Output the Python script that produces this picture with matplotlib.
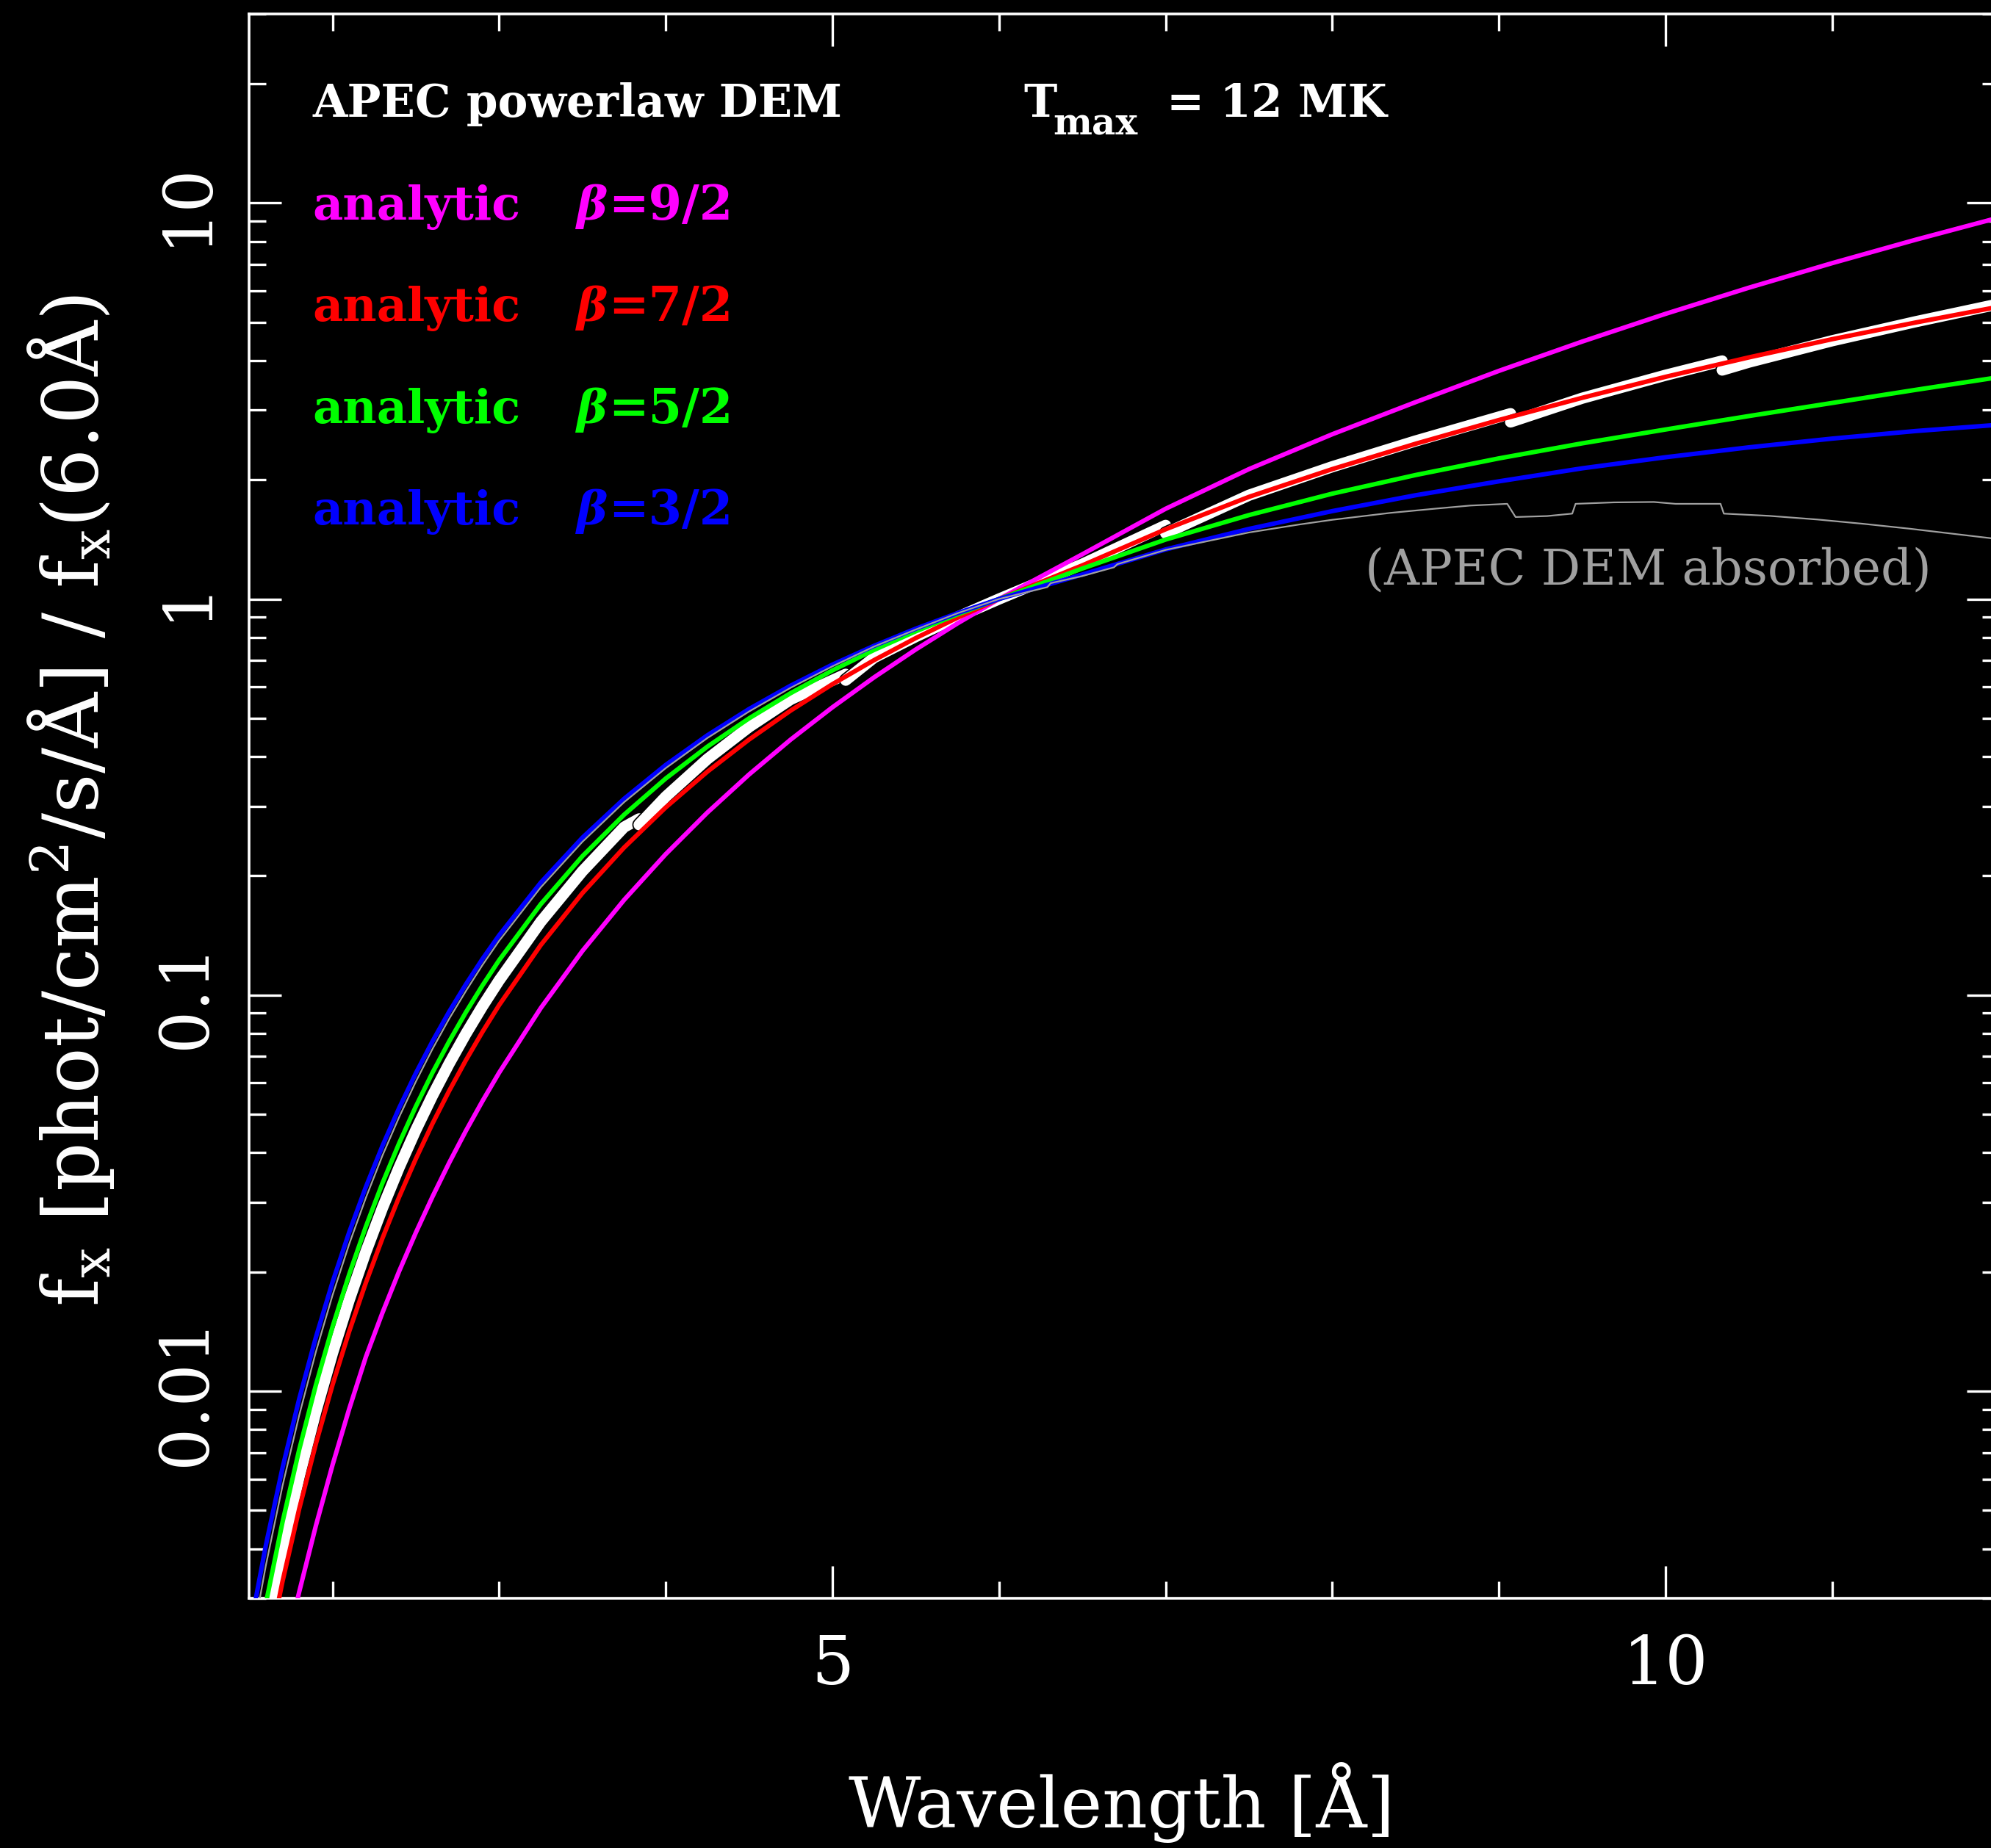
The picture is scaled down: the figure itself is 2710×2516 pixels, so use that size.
import matplotlib
matplotlib.use("Agg")
import matplotlib.pyplot as plt
import matplotlib.patheffects as pe
from matplotlib.ticker import FixedLocator, FixedFormatter, MultipleLocator, LogLocator, NullFormatter

# wavelength grid [A] for the analytic powerlaw-DEM curves
wavelength = [1.5, 1.6, 1.7, 1.8, 1.9, 2.0, 2.1, 2.2, 2.3, 2.4, 2.5, 2.6, 2.7, 2.8, 2.9, 3.0,
              3.25, 3.5, 3.75, 4.0, 4.25, 4.5, 4.75, 5.0, 5.25, 5.5, 5.75, 6.0, 6.5, 7.0, 7.5,
              8.0, 8.5, 9.0, 9.5, 10.0, 10.5, 11.0, 11.5, 12.0]

# f_x / f_x(6 A) for each beta
fx_beta92 = [0.000785, 0.001315, 0.002065, 0.003112, 0.004571, 0.006510, 0.009016, 0.01220,
             0.01579, 0.02009, 0.02513, 0.03098, 0.03772, 0.04539, 0.05402, 0.06371, 0.09277,
             0.1293, 0.1739, 0.2270, 0.2891, 0.3606, 0.4418, 0.5328, 0.6341, 0.7456, 0.8675,
             1.0, 1.297, 1.690, 2.128, 2.606, 3.141, 3.767, 4.467, 5.248, 6.109, 7.047, 8.072, 9.183]
fx_beta72 = [0.001212, 0.002065, 0.003310, 0.005044, 0.007363, 0.01037, 0.01415, 0.01878,
             0.02435, 0.03094, 0.03860, 0.04738, 0.05731, 0.06843, 0.08077, 0.09436, 0.1338,
             0.1810, 0.2358, 0.2978, 0.3666, 0.4418, 0.5230, 0.6095, 0.7009, 0.7967, 0.8966,
             1.0, 1.216, 1.500, 1.811, 2.128, 2.466, 2.831, 3.221, 3.639, 4.074, 4.529, 4.989, 5.470]
fx_beta52 = [0.001701, 0.002910, 0.004673, 0.007116, 0.01036, 0.01453, 0.01972, 0.02603,
             0.03353, 0.04228, 0.05234, 0.06371, 0.07639, 0.09045, 0.1058, 0.1225, 0.1697,
             0.2243, 0.2854, 0.3523, 0.4240, 0.4997, 0.5787, 0.6603, 0.7437, 0.8286, 0.9140,
             1.0, 1.194, 1.413, 1.629, 1.845, 2.056, 2.265, 2.472, 2.679, 2.897, 3.126, 3.373, 3.631]
fx_beta32 = [0.002443, 0.004083, 0.006405, 0.009559, 0.01367, 0.01884, 0.02519, 0.03277,
             0.04165, 0.05188, 0.06350, 0.07643, 0.09078, 0.1064, 0.1234, 0.1416, 0.1924,
             0.2498, 0.3131, 0.3812, 0.4529, 0.5276, 0.6045, 0.6828, 0.7618, 0.8415, 0.9209,
             1.0, 1.153, 1.334, 1.503, 1.667, 1.828, 1.982, 2.138, 2.280, 2.415, 2.541, 2.655, 2.754]

# APEC powerlaw DEM, one piece per temperature grid segment
apec_wl = [
    [1.5, 1.6, 1.7, 1.8, 1.9, 2.0, 2.1, 2.2, 2.3, 2.4, 2.5, 2.6, 2.7, 2.8, 2.9, 3.0, 3.25,
     3.5, 3.75, 3.84],
    [3.84, 4.0, 4.25, 4.5, 4.75, 5.08],
    [5.08, 5.25, 5.5, 5.75, 6.0, 6.5, 7.0],
    [7.0, 7.5, 8.0, 8.5, 9.07],
    [9.07, 9.5, 10.0, 10.34],
    [10.34, 10.5, 11.0, 11.5, 12.0],
]
apec_fx = [
    [0.001460, 0.002493, 0.004001, 0.006095, 0.008887, 0.01248, 0.01698, 0.02247, 0.02904,
     0.03674, 0.04564, 0.05576, 0.06713, 0.07977, 0.09371, 0.1089, 0.1532, 0.2055, 0.2655,
     0.2786],
    [0.2692, 0.3170, 0.3945, 0.4753, 0.5580, 0.6457],
    [0.6237, 0.7112, 0.8035, 0.9000, 1.0, 1.2246, 1.5346],
    [1.4655, 1.8281, 2.1577, 2.5061, 2.9376],
    [2.7990, 3.2137, 3.6728, 3.9902],
    [3.7844, 3.9628, 4.4875, 5.0119, 5.5590],
]

# APEC DEM with absorption
absorbed_wl = [1.5, 1.6, 1.7, 1.8, 1.9, 2.0, 2.1, 2.2, 2.3, 2.4, 2.5, 2.6, 2.7, 2.8, 2.9, 3.0,
               3.25, 3.5, 3.75, 4.0, 4.25, 4.5, 4.75, 5.0, 5.25, 5.5, 5.75, 6.0, 6.29, 6.31,
               6.5, 6.69, 6.71, 7.0, 7.5, 7.8, 8.0, 8.35, 8.63, 8.83, 9.05, 9.10, 9.29, 9.44,
               9.46, 9.69, 9.93, 10.06, 10.33, 10.35, 10.62, 10.91, 11.19, 11.47, 11.95, 12.0]
absorbed_fx = [0.002138, 0.003631, 0.005768, 0.008690, 0.01256, 0.01746, 0.02351, 0.03076,
               0.03936, 0.04920, 0.06045, 0.07311, 0.08712, 0.1023, 0.1191, 0.1371, 0.1871,
               0.2438, 0.3069, 0.3741, 0.4457, 0.5200, 0.5970, 0.6761, 0.7586, 0.8375, 0.9204,
               1.0, 1.0715, 1.0965, 1.1429, 1.2023, 1.2246, 1.3305, 1.4723, 1.5417, 1.5849,
               1.6501, 1.6927, 1.7219, 1.7390, 1.6106, 1.6199, 1.6428, 1.7390, 1.7539, 1.7579,
               1.7390, 1.7390, 1.6428, 1.6218, 1.5878, 1.5478, 1.5042, 1.4244, 1.4158]

beta_labels = ["9/2", "7/2", "5/2", "3/2"]
beta_colors = ["#ff00ff", "#ff0000", "#00ff00", "#0000ff"]
y_ticks = [0.01, 0.1, 1, 10]
y_ticklabels = ["0.01", "0.1", "1", "10"]

plt.rcParams["font.family"] = "DejaVu Serif"
plt.rcParams["mathtext.fontset"] = "dejavuserif"

W, H = 2710, 2516
fig = plt.figure(figsize=(W / 100, H / 100), dpi=100, facecolor="black")
ax = fig.add_axes([339.2 / W, 1 - 2176 / H, 2381.4 / W, 2157 / H])
ax.set_facecolor("black")


def fpos(x, y):
    # pixel position -> figure fraction
    return x / W, 1 - y / H


# thick white line with a thin black rim so neighbouring curves stay apart
rim = [pe.Stroke(linewidth=13.5, foreground="black"), pe.Normal()]
for wl, fx in zip(apec_wl, apec_fx):
    ax.plot(wl, fx, color="white", lw=11.0, solid_capstyle="round", zorder=2,
            path_effects=rim)

for fx, c in zip([fx_beta92, fx_beta72, fx_beta52, fx_beta32], beta_colors):
    ax.plot(wavelength, fx, color=c, lw=4.4, zorder=3)

ax.plot(absorbed_wl, absorbed_fx, color="#a0a0a0", lw=1.6, zorder=4)

ax.set_yscale("log")
ax.set_xlim(1.5, 12.0)
ax.set_ylim(0.003, 30)

ax.xaxis.set_major_locator(FixedLocator([5, 10]))
ax.xaxis.set_minor_locator(MultipleLocator(1))
ax.yaxis.set_major_locator(FixedLocator(y_ticks))
ax.yaxis.set_major_formatter(FixedFormatter(y_ticklabels))
ax.yaxis.set_minor_locator(LogLocator(base=10, subs=range(2, 10)))
ax.yaxis.set_minor_formatter(NullFormatter())

for s in ax.spines.values():
    s.set_color("white")
    s.set_linewidth(2.6)
ax.tick_params(which="both", direction="in", top=True, right=True, color="white",
               labelcolor="white", width=2.4, labelsize=66)
ax.tick_params(which="major", length=32)
ax.tick_params(which="minor", length=16.5)
ax.tick_params(axis="x", pad=34)
ax.tick_params(axis="y", pad=30, labelrotation=90)
for lab in ax.get_yticklabels():
    lab.set_verticalalignment("center")

# header and legend
fig.text(*fpos(425, 159), "APEC powerlaw DEM", color="white", fontsize=44,
         fontweight="bold", va="baseline")
fig.text(*fpos(1393, 159), "T", color="white", fontsize=44, fontweight="bold", va="baseline")
fig.text(*fpos(1433, 183), "max", color="white", fontsize=36, fontweight="bold", va="baseline")
fig.text(*fpos(1588, 159), "= 12 MK", color="white", fontsize=44, fontweight="bold", va="baseline")

for i, (b, c) in enumerate(zip(beta_labels, beta_colors)):
    yb = 299 + i * 138.3
    fig.text(*fpos(425, yb), "analytic", color=c, fontsize=46, fontweight="bold", va="baseline")
    fig.text(*fpos(785, yb), "β", color=c, fontsize=46, fontweight="bold", style="italic",
             va="baseline")
    fig.text(*fpos(828, yb), "=" + b, color=c, fontsize=47, fontweight="bold", va="baseline")

fig.text(*fpos(1858, 795), "(APEC DEM absorbed)", color="#a0a0a0", fontsize=48, va="baseline")

fig.text(*fpos(1527, 2488), "Wavelength [Å]", color="white", fontsize=69, ha="center",
         va="baseline")
fig.text(*fpos(134, 1090), r"f$_{\rm x}$ [phot/cm$^{2}$/s/Å] / f$_{\rm x}$(6.0Å)", color="white",
         fontsize=75, rotation=90, rotation_mode="anchor", ha="center", va="baseline")

fig.savefig("out.png", dpi=100, facecolor="black")
